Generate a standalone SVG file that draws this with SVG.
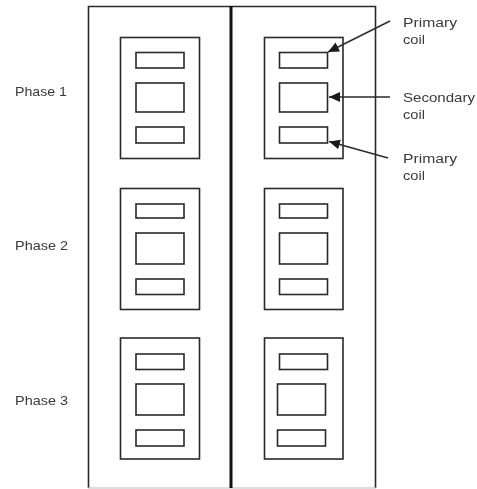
<svg xmlns="http://www.w3.org/2000/svg" width="477" height="489" viewBox="0 0 477 489">
<style>
.o{fill:none;stroke:#2a2a2a;stroke-width:1.6}
.l{fill:none;stroke:#2a2a2a;stroke-width:1.5;marker-end:url(#a)}
text{font-family:"Liberation Sans",Arial,sans-serif;font-size:13px;fill:#3a3a3a;filter:url(#soft)}
</style>
<defs>
<marker id="a" markerUnits="userSpaceOnUse" markerWidth="12" markerHeight="12" refX="11" refY="5.500" orient="auto"><path d="M0 0.500L11 5.500L0 10.500Z" fill="#1a1a1a"/></marker>
<filter id="soft" x="-5%" y="-20%" width="110%" height="140%"><feGaussianBlur stdDeviation="0.35"/></filter>
</defs>
<rect width="477" height="489" fill="#fff"/>
<g id="frame">
<path class="o" d="M88.500 488V6.500H375.500V488"/>
<path d="M88 488H376" stroke="#bbb" fill="none"/>
<path d="M231 6V488" stroke="#111" stroke-width="3" fill="none"/>
</g>
<g id="left-phase-1"><rect class="o" x="120.500" y="37.500" width="79" height="121"/><rect class="o" x="136" y="52.500" width="48" height="15.500"/><rect class="o" x="136" y="83" width="48" height="29"/><rect class="o" x="136" y="127" width="48" height="16"/></g>
<g id="left-phase-2"><rect class="o" x="120.500" y="188.500" width="79" height="121"/><rect class="o" x="136" y="204" width="48" height="14"/><rect class="o" x="136" y="233" width="48" height="31"/><rect class="o" x="136" y="279" width="48" height="15.500"/></g>
<g id="left-phase-3"><rect class="o" x="120.500" y="338" width="79" height="121"/><rect class="o" x="136" y="354" width="48" height="15.500"/><rect class="o" x="136" y="384" width="48" height="31"/><rect class="o" x="136" y="430" width="48" height="16"/></g>
<g id="right-phase-1"><rect class="o" x="264.500" y="37.500" width="78.500" height="121"/><rect class="o" x="279.500" y="52.500" width="48" height="15.500"/><rect class="o" x="279.500" y="83" width="48" height="29"/><rect class="o" x="279.500" y="127" width="48" height="16"/></g>
<g id="right-phase-2"><rect class="o" x="264.500" y="188.500" width="78.500" height="121"/><rect class="o" x="279.500" y="204" width="48" height="14"/><rect class="o" x="279.500" y="233" width="48" height="31"/><rect class="o" x="279.500" y="279" width="48" height="15.500"/></g>
<g id="right-phase-3"><rect class="o" x="264.500" y="338" width="78.500" height="121"/><rect class="o" x="279.500" y="354" width="48" height="15.500"/><rect class="o" x="277.500" y="384" width="48" height="31"/><rect class="o" x="277.500" y="430" width="48" height="16"/></g>
<g id="connectors">
<path class="l" d="M390 21L328 52"/>
<path class="l" d="M390 97H329"/>
<path class="l" d="M388 158L329 141.500"/>
</g>
<g id="labels">
<text x="15" y="95.500" textLength="52" lengthAdjust="spacingAndGlyphs">Phase 1</text>
<text x="15" y="250" textLength="53" lengthAdjust="spacingAndGlyphs">Phase 2</text>
<text x="15" y="405" textLength="53" lengthAdjust="spacingAndGlyphs">Phase 3</text>
<text x="403" y="27" textLength="54" lengthAdjust="spacingAndGlyphs">Primary</text>
<text x="403" y="44" textLength="22" lengthAdjust="spacingAndGlyphs">coil</text>
<text x="403" y="101.500" textLength="72" lengthAdjust="spacingAndGlyphs">Secondary</text>
<text x="403" y="118.500" textLength="22" lengthAdjust="spacingAndGlyphs">coil</text>
<text x="403" y="163" textLength="54" lengthAdjust="spacingAndGlyphs">Primary</text>
<text x="403" y="180" textLength="22" lengthAdjust="spacingAndGlyphs">coil</text>
</g>
</svg>
